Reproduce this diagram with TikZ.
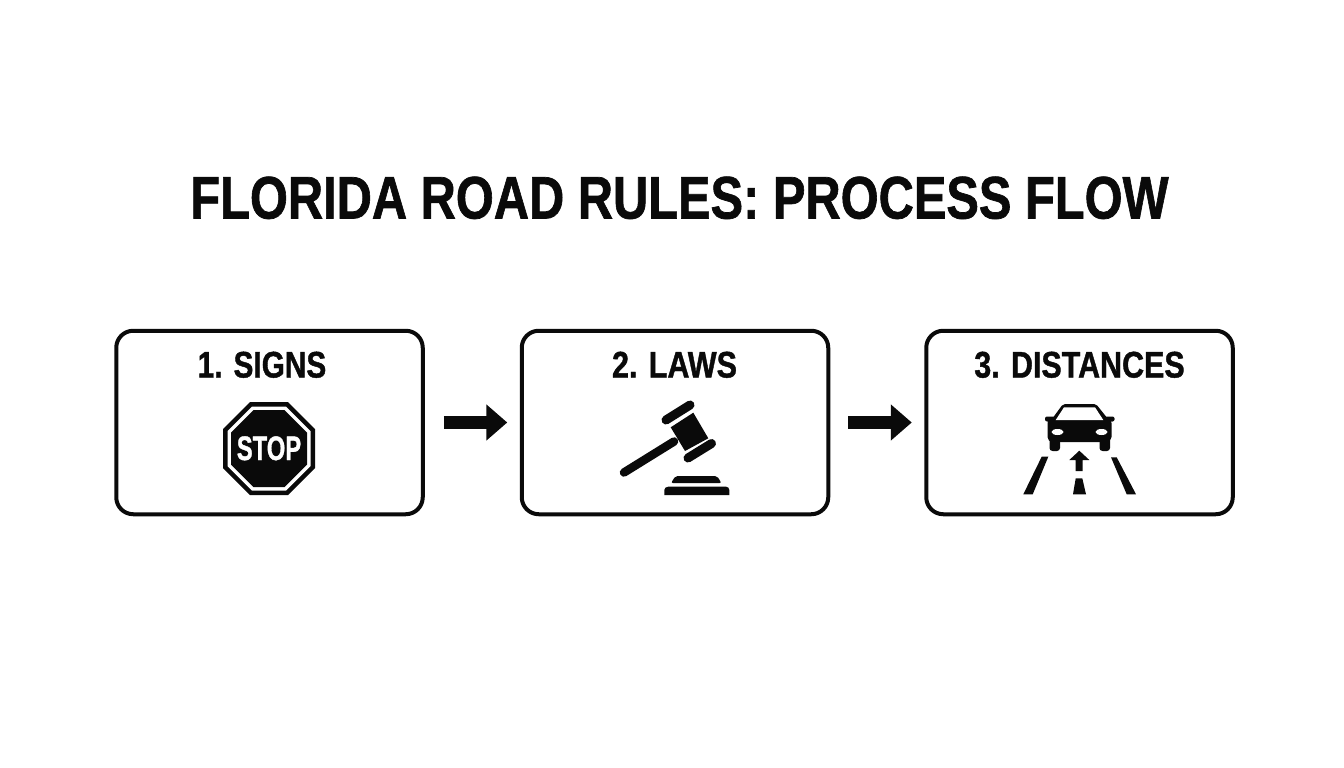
\documentclass[tikz,border=0pt]{standalone}
\usepackage{fontspec}
\setmainfont{Liberation Sans}[BoldFont={Liberation Sans Bold}]
\newfontfamily\heavyfont{Liberation Sans Bold}[FakeBold=1.2]
\usetikzlibrary{arrows.meta}
\definecolor{ink}{HTML}{0A0A0A}
\tikzset{
  stepbox/.style={draw=ink,line width=4pt,rounded corners=17pt,minimum width=306.5pt,minimum height=183.5pt,outer sep=0pt,inner sep=0pt},
  steplabel/.style={text=ink,font=\heavyfont\fontsize{37}{37}\selectfont,inner sep=0pt,anchor=base},
  flow/.style={draw=ink,line width=13.5pt,yshift=0.8pt,-{Triangle[length=21pt,width=35pt]}},
  bar/.style={draw=ink,line cap=round}
}
\begin{document}
\begin{tikzpicture}[x=1pt,y=-1pt]
\useasboundingbox[fill=white] (0,0) rectangle (1344,768);
\node[text=ink,inner sep=0pt,anchor=base] (title) at (679.5,218.5) {\scalebox{0.813}[1]{\heavyfont\fontsize{60}{60}\selectfont FLORIDA ROAD RULES: PROCESS FLOW}};
\node[stepbox] (b1) at (269.5,422.5) {};
\node[stepbox] (b2) at (675,422.5) {};
\node[stepbox] (b3) at (1079.5,422.5) {};
\node[steplabel] (l1) at (262,377.5) {\scalebox{0.805}[1]{1. SIGNS}};
\node[steplabel] (l2) at (674.5,377.5) {\scalebox{0.825}[1]{2. LAWS}};
\node[steplabel] (l3) at (1079.5,377.5) {\scalebox{0.823}[1]{3. DISTANCES}};
\draw[flow,shorten <=21pt,shorten >=14.5pt] (b1.east) -- (b2.west);
\draw[flow,shorten <=20pt,shorten >=14.5pt] (b2.east) -- (b3.west);
% stop sign
\fill[ink] (250,402)--(288,402)--(315,429)--(315,468)--(288,495)--(250,495)--(223,468)--(223,429)--cycle;
\fill[white] (252,406.5)--(286,406.5)--(310.5,431)--(310.5,466)--(286,490.5)--(252,490.5)--(227.5,466)--(227.5,431)--cycle;
\fill[ink] (253.5,410)--(284.5,410)--(307,432.5)--(307,464.5)--(284.5,487)--(253.5,487)--(231,464.5)--(231,432.5)--cycle;
\node[text=white,inner sep=0pt,anchor=base] (stop) at (269,460) {\scalebox{0.7}[1]{\heavyfont\fontsize{34}{34}\selectfont STOP}};
% gavel
\draw[bar,line width=8.5pt] (624,472.5) -- (674,441.5);
\fill[ink] (670.7,427.3)--(693.3,412.7)--(708.3,438.3)--(685,451)--cycle;
\draw[bar,line width=9pt] (666,420) -- (690,405);
\draw[bar,line width=9pt] (688,458) -- (711.5,443.5);
\fill[ink,rounded corners=2pt] (671,483)--(675.5,476)--(717,476)--(721.5,483)--cycle;
\fill[ink] (664.3,495) -- (664.3,490) .. controls (664.3,488) and (666,486.7) .. (668.3,486.7) -- (726,486.7) .. controls (728,486.7) and (729.3,488) .. (729.3,490) -- (729.3,495) -- cycle;
% car
\fill[ink,rounded corners=2pt] (1052,419)--(1063,404)--(1096,404)--(1108,419)--cycle;
\fill[ink,rounded corners=5pt] (1047.5,418) rectangle (1111.5,442);
\fill[ink,rounded corners=2pt] (1045,416.5) rectangle (1055,421.5);
\fill[ink,rounded corners=2pt] (1105,416.5) rectangle (1114.5,421.5);
\fill[ink,rounded corners=3pt] (1049.5,438) rectangle (1060,451);
\fill[ink,rounded corners=3pt] (1099.5,438) rectangle (1110,451);
\fill[white] (1055.7,420)--(1064,407.3)--(1095,407.3)--(1103.3,420)--cycle;
\fill[white] (1057.5,432) ellipse (6pt and 3pt);
\fill[white] (1101.5,432) ellipse (6pt and 3pt);
% road
\fill[ink] (1079.3,450.7)--(1089.3,460)--(1082.7,460)--(1082.7,471)--(1075.7,471)--(1075.7,460)--(1069.3,460)--cycle;
\fill[ink] (1075.7,478.3)--(1082.3,478.3)--(1086,494.3)--(1073,494.3)--cycle;
\fill[ink] (1041.7,456.7)--(1048.3,456.7)--(1032.7,494.3)--(1023.3,494.3)--cycle;
\fill[ink] (1111,457.3)--(1116.7,457.3)--(1136,494.3)--(1126.7,494.3)--cycle;
\end{tikzpicture}
\end{document}
